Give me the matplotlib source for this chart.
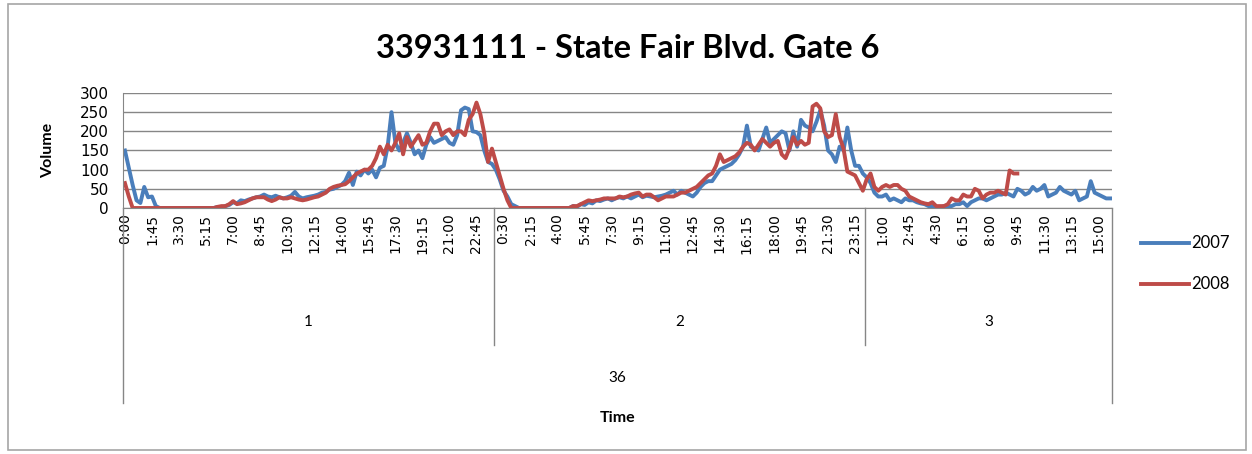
import numpy as np
import matplotlib
matplotlib.use("Agg")
import matplotlib.pyplot as plt
from matplotlib.lines import Line2D
from matplotlib.patches import Rectangle

# 15-minute volumes, three days per year
vol_2007_day1 = [150, 105, 60, 20, 13, 55, 28, 30,
                 5, 0, 0, 0, 0, 0, 0, 0,
                 0, 0, 0, 0, 0, 0, 0, 0,
                 3, 0, 5, 8, 15, 12, 20, 18,
                 22, 25, 28, 30, 35, 30, 28, 32,
                 28, 25, 28, 32, 42, 30, 25, 28,
                 30, 32, 35, 40, 42, 48, 50, 55,
                 60, 70, 92, 60, 95, 85, 100, 90,
                 100, 80, 105, 110, 160, 250, 170, 150,
                 170, 195, 170, 140, 150, 130, 165, 185,
                 170, 175, 180, 185, 170, 165, 190, 255,
                 262, 258, 200, 198, 190, 150, 120, 115]
vol_2007_day2 = [100, 75, 45, 30, 10, 5, 0, 0,
                 0, 0, 0, 0, 0, 0, 0, 0,
                 0, 0, 0, 0, 5, 3, 10, 8,
                 15, 12, 20, 18, 22, 25, 20, 25,
                 28, 25, 30, 25, 30, 35, 28, 32,
                 30, 28, 30, 32, 35, 40, 45, 35,
                 45, 40, 35, 30, 40, 55, 65, 70,
                 70, 85, 100, 105, 110, 115, 125, 140,
                 160, 215, 160, 155, 150, 180, 210, 170,
                 180, 190, 200, 195, 150, 200, 160, 230,
                 215, 210, 200, 225, 255, 215, 150, 140,
                 120, 160, 150, 210, 150, 110, 110, 90]
vol_2007_day3 = [80, 65, 40, 30, 30, 35, 20, 25,
                 20, 15, 25, 20, 20, 15, 12, 10,
                 5, 5, 0, 0, 5, 5, 5, 10,
                 10, 15, 5, 15, 20, 25, 25, 20,
                 25, 30, 35, 35, 40, 35, 30, 50,
                 45, 35, 40, 55, 45, 50, 60, 30,
                 35, 40, 55, 45, 40, 35, 45, 20,
                 25, 30, 70, 40, 35, 30, 25, 25]

vol_2008_day1 = [65, 30, 0, 0, 0, 0, 0, 0,
                 0, 0, 0, 0, 0, 0, 0, 0,
                 0, 0, 0, 0, 0, 0, 0, 0,
                 3, 5, 5, 10, 18, 10, 12, 15,
                 20, 25, 28, 28, 28, 22, 18, 22,
                 28, 25, 25, 28, 25, 22, 20, 22,
                 25, 28, 30, 35, 40, 50, 55, 58,
                 60, 62, 70, 80, 90, 95, 100, 100,
                 110, 130, 160, 140, 165, 150, 170, 195,
                 140, 185, 160, 175, 190, 165, 170, 200,
                 220, 220, 190, 200, 205, 190, 200, 200,
                 190, 230, 245, 275, 245, 195, 120, 155]
vol_2008_day2 = [120, 85, 50, 20, 0, 0, 0, 0,
                 0, 0, 0, 0, 0, 0, 0, 0,
                 0, 0, 0, 0, 5, 5, 10, 15,
                 20, 18, 20, 22, 25, 25, 25, 25,
                 30, 28, 30, 35, 38, 40, 30, 35,
                 35, 28, 20, 25, 30, 30, 30, 35,
                 40, 40, 45, 50, 55, 65, 75, 85,
                 90, 110, 140, 120, 125, 130, 135, 145,
                 160, 170, 165, 150, 165, 180, 170, 160,
                 170, 175, 140, 130, 155, 185, 165, 175,
                 165, 170, 265, 272, 260, 200, 185, 190,
                 245, 185, 155, 95, 90, 85, 65, 45]
vol_2008_day3 = [75, 90, 55, 45, 55, 60, 55, 60,
                 60, 50, 45, 30, 25, 20, 15, 12,
                 10, 15, 5, 5, 5, 10, 25, 20,
                 20, 35, 30, 30, 50, 45, 25, 35,
                 40, 40, 45, 40, 35, 98, 90, 90]

days = ["1", "2", "3"]
day_lengths = [96, 96, 64]
group_label = "36"
series_names = ["2007", "2008"]
colors = ["#4A7EBB", "#BE4B48"]

vol_2007 = vol_2007_day1 + vol_2007_day2 + vol_2007_day3
vol_2008 = vol_2008_day1 + vol_2008_day2 + vol_2008_day3

# category labels: time of day for each 15 min slot
slot_times = []
for n in day_lengths:
    for k in range(n):
        m = k * 15
        slot_times.append("%d:%02d" % (m // 60, m % 60))
n_total = len(slot_times)
tick_idx = list(range(0, n_total, 7))

W, H = 1252, 454
plt.rcParams['font.family'] = ['Lato', 'DejaVu Sans']
fig = plt.figure(figsize=(W / 100, H / 100), dpi=100)
fig.patches.append(Rectangle((8 / W, 4 / H), 1238 / W, 446 / H, transform=fig.transFigure,
                             facecolor="none", edgecolor="#A6A6A6", lw=1.2))

ax = fig.add_axes([123 / W, 1 - 208 / H, (1112 - 123) / W, (208 - 93) / H])
ax.set_facecolor("none")

ax.plot(np.arange(len(vol_2007)), vol_2007, color=colors[0], lw=2.8, solid_joinstyle="round")
ax.plot(np.arange(len(vol_2008)), vol_2008, color=colors[1], lw=2.8, solid_joinstyle="round")

ax.set_xlim(-0.5, n_total - 0.5)
ax.set_ylim(0, 300)
ax.set_yticks(range(0, 301, 50))
ax.yaxis.grid(True, color="#868686", lw=1)
ax.set_axisbelow(True)
for s in ["top", "right"]:
    ax.spines[s].set_visible(False)
ax.spines["left"].set_color("#868686")
ax.spines["bottom"].set_color("#868686")
ax.tick_params(axis="y", length=0, pad=10)
ax.set_xticks(tick_idx)
ax.set_xticklabels([slot_times[i] for i in tick_idx], rotation=90)
ax.tick_params(axis="x", length=0, pad=4)
for lab in ax.get_yticklabels():
    lab.set_fontfamily("DejaVu Sans")
    lab.set_fontsize(11)
for lab in ax.get_xticklabels():
    lab.set_fontfamily("DejaVu Sans")
    lab.set_fontsize(10)

# multi-level category axis: day groups and outer group
tr = ax.get_xaxis_transform()
px = 1.0 / (208 - 93)
edges = np.cumsum([0] + day_lengths) - 0.5
for e in edges:
    outer = e == edges[0] or e == edges[-1]
    y1 = -(403 - 208) * px if outer else -(345 - 208) * px
    ax.add_line(Line2D([e, e], [0, y1], transform=tr, color="#868686", lw=1, clip_on=False))
for i, d in enumerate(days):
    ax.text((edges[i] + edges[i + 1]) / 2, -(322 - 208) * px, d, transform=tr,
            ha="center", va="center", fontsize=11)
ax.text((edges[0] + edges[-1]) / 2, -(378 - 208) * px, group_label, transform=tr,
        ha="center", va="center", fontsize=11)
ax.text((edges[0] + edges[-1]) / 2, -(418 - 208) * px, "Time", transform=tr,
        ha="center", va="center", fontsize=11.5, fontweight="bold")

fig.text(48 / W, 1 - 150 / H, "Volume", rotation=90, ha="center", va="center",
         fontsize=11.5, fontweight="bold")
fig.text(628 / W, 1 - 48 / H, "33931111 - State Fair Blvd. Gate 6", ha="center", va="center",
         fontsize=23.5, fontweight="bold")

handles = [Line2D([], [], color=c, lw=2.8) for c in colors]
fig.legend(handles, series_names, loc="center left", bbox_to_anchor=(1126 / W, 1 - 264 / H),
           frameon=False, fontsize=12, handlelength=2.9, handletextpad=0.1, labelspacing=1.5)

fig.savefig("out.png", dpi=100)
